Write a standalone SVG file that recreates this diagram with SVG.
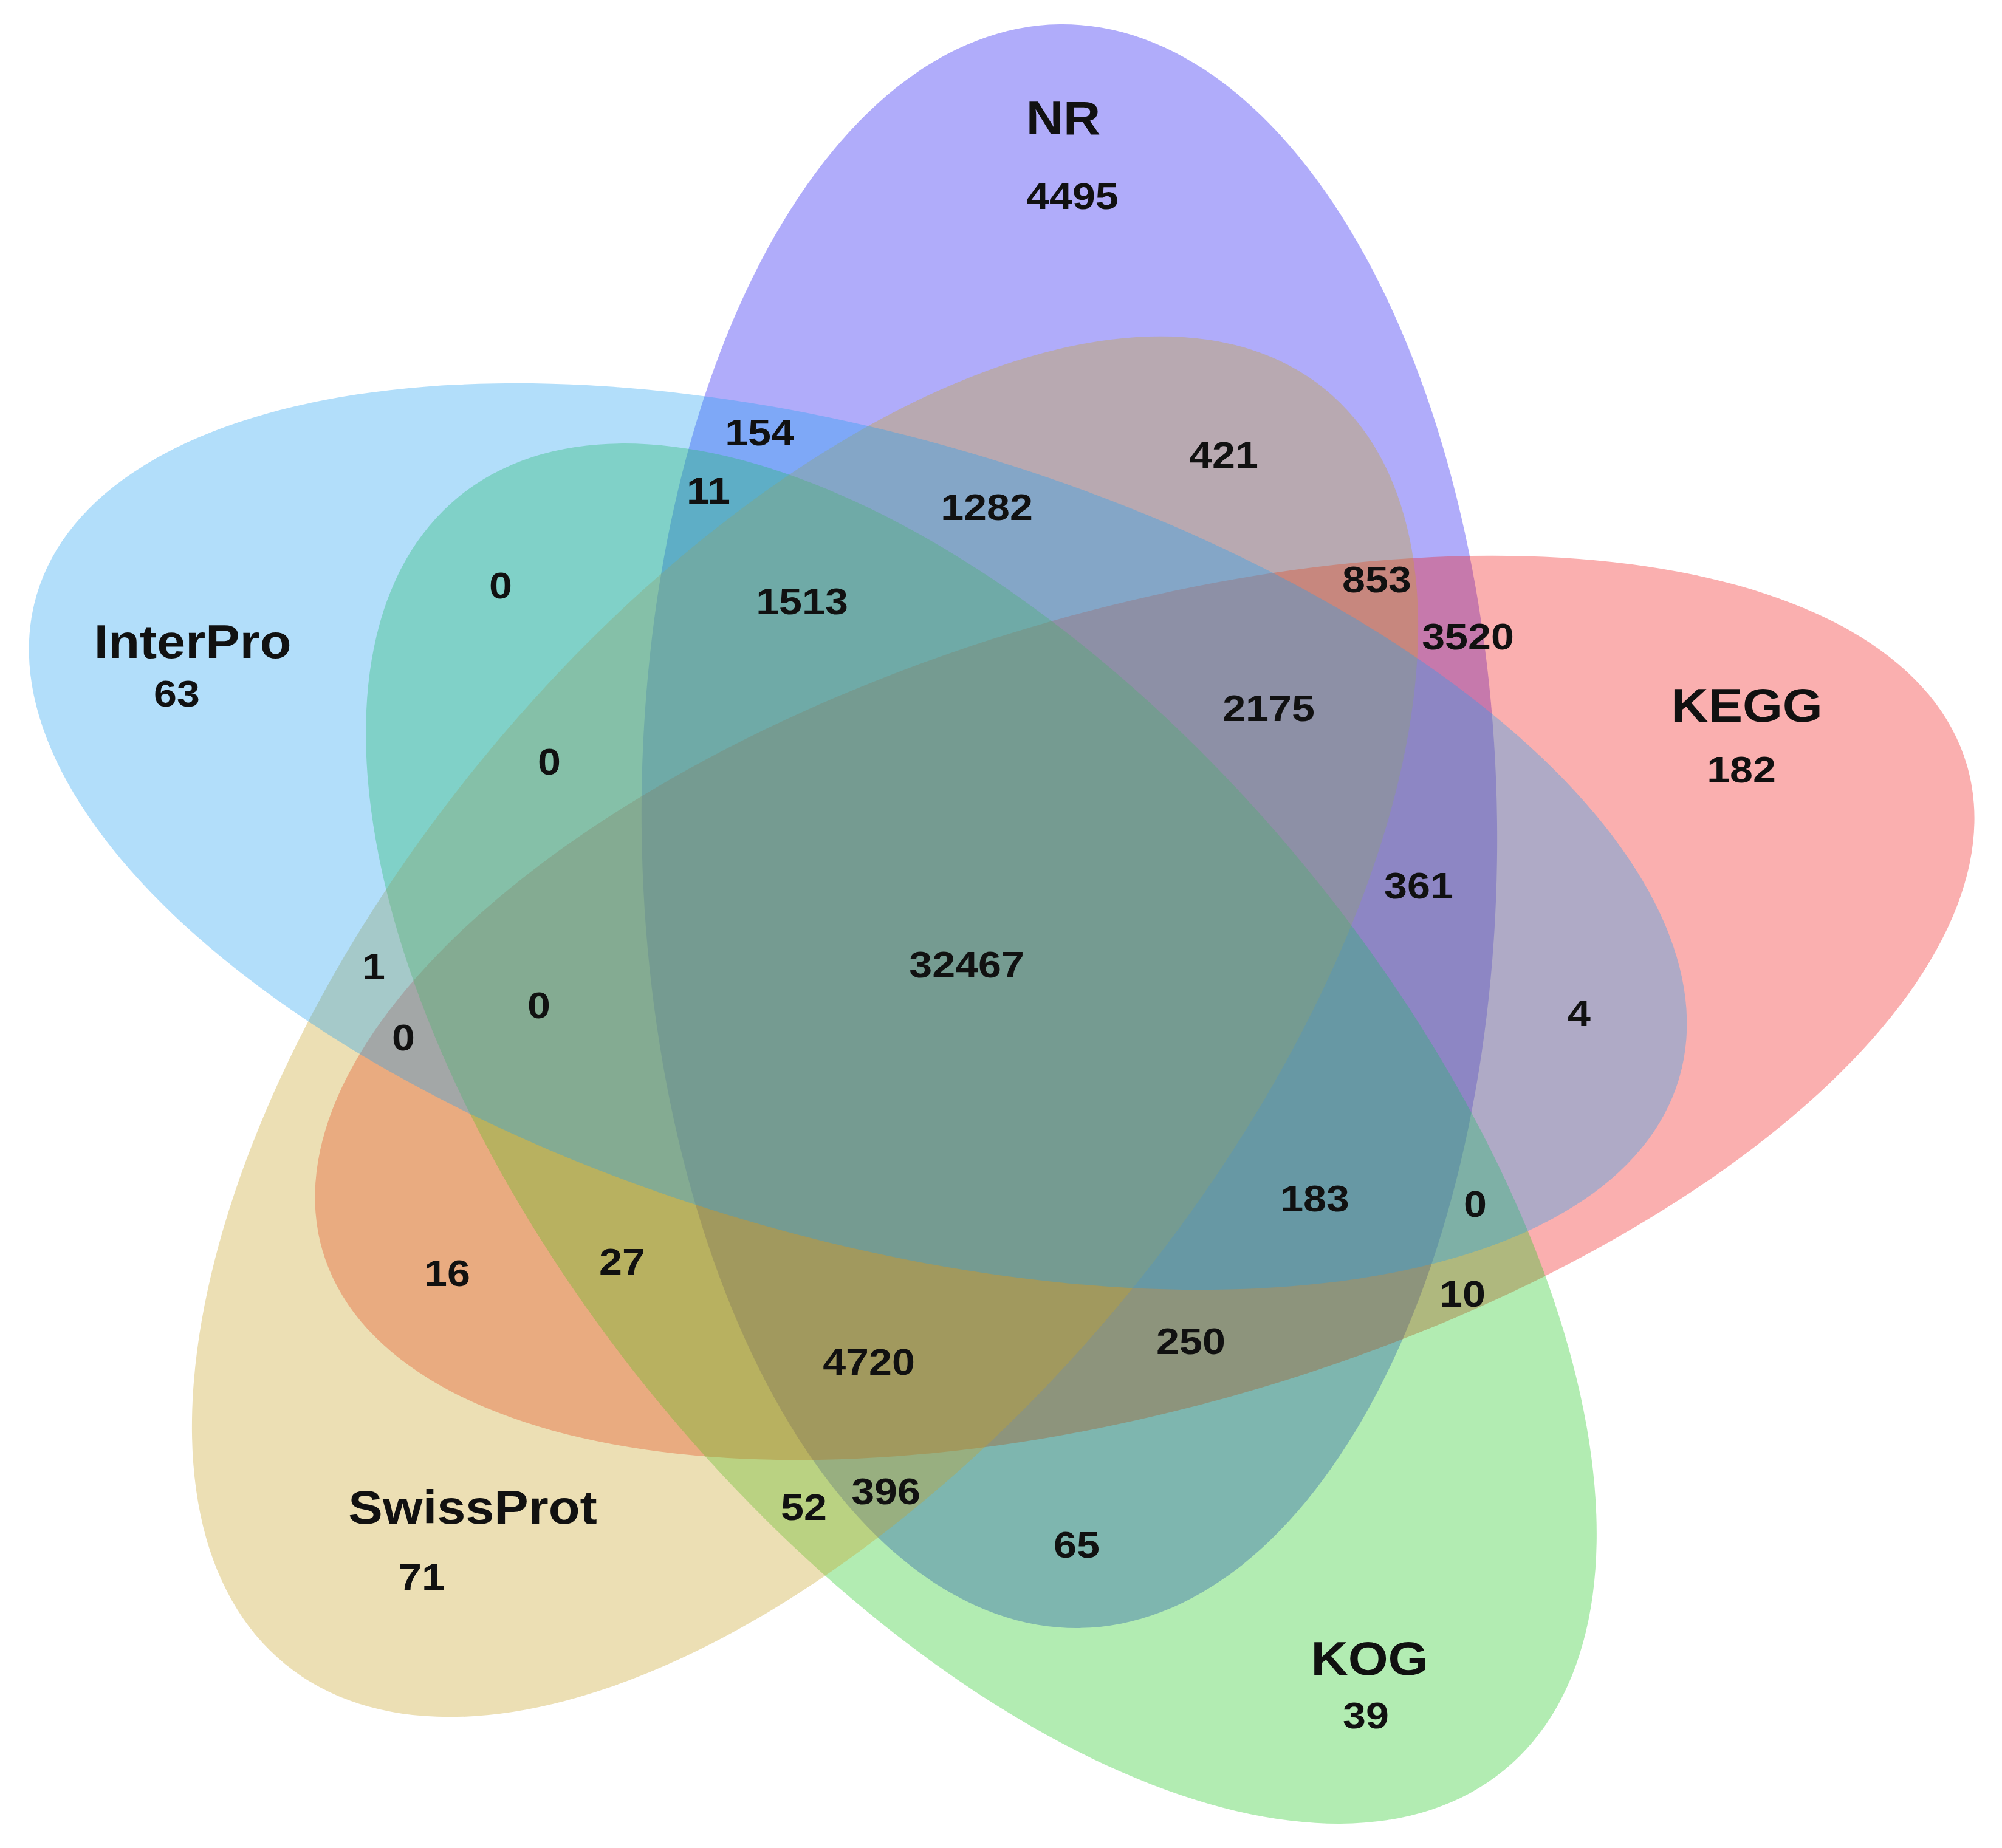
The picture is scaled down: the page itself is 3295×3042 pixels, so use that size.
<svg xmlns="http://www.w3.org/2000/svg" width="3295" height="3042" viewBox="0 0 3295 3042">
<style>
.set{fill-opacity:0.35;stroke:none}
.lbl{font-family:"Liberation Sans",Arial,sans-serif;font-weight:bold;font-size:77px;fill:#111;text-anchor:middle}
.num{font-family:"Liberation Sans",Arial,sans-serif;font-weight:bold;font-size:62px;fill:#111;text-anchor:middle}
</style>
<rect width="3295" height="3042" fill="#ffffff"/>
<g id="set-NR">
<ellipse class="set" cx="1760" cy="1360" rx="704" ry="1320" transform="rotate(-0.7 1760 1360)" fill="#1D12F1"/>
<g transform="scale(1.1 1)"><text class="lbl" x="1590.9" y="221">NR</text><text class="num" x="1604.5" y="344">4495</text></g>
</g>
<g id="set-KEGG">
<ellipse class="set" cx="1884" cy="1659" rx="1411" ry="654" transform="rotate(-16.5 1884 1659)" fill="#F11A1A"/>
<g transform="scale(1.1 1)"><text class="lbl" x="2613.6" y="1188">KEGG</text><text class="num" x="2605.5" y="1288">182</text></g>
</g>
<g id="set-KOG">
<ellipse class="set" cx="1615" cy="1866" rx="1356" ry="691" transform="rotate(50.6 1615 1866)" fill="#23C923"/>
<g transform="scale(1.1 1)"><text class="lbl" x="2049.1" y="2757">KOG</text><text class="num" x="2043.6" y="2845">39</text></g>
</g>
<g id="set-SwissProt">
<ellipse class="set" cx="1325" cy="1690" rx="1354" ry="690" transform="rotate(-50.8 1325 1690)" fill="#C9A429"/>
<g transform="scale(1.1 1)"><text class="lbl" x="707.3" y="2508">SwissProt</text><text class="num" x="630.9" y="2617">71</text></g>
</g>
<g id="set-InterPro">
<ellipse class="set" cx="1412" cy="1377" rx="1409" ry="658" transform="rotate(16.4 1412 1377)" fill="#23A1F1"/>
<g transform="scale(1.1 1)"><text class="lbl" x="288.2" y="1083">InterPro</text><text class="num" x="264.5" y="1163">63</text></g>
</g>
<g id="region-counts" transform="scale(1.1 1)">
<text class="num" x="1136.4" y="733">154</text>
<text class="num" x="1060" y="829">11</text>
<text class="num" x="1476.4" y="856">1282</text>
<text class="num" x="1830.9" y="770">421</text>
<text class="num" x="749.1" y="985">0</text>
<text class="num" x="1200" y="1011">1513</text>
<text class="num" x="2060" y="975">853</text>
<text class="num" x="2196.4" y="1069">3520</text>
<text class="num" x="1898.2" y="1187">2175</text>
<text class="num" x="821.8" y="1275">0</text>
<text class="num" x="2122.7" y="1479">361</text>
<text class="num" x="1446.4" y="1609">32467</text>
<text class="num" x="559.1" y="1612">1</text>
<text class="num" x="806.4" y="1676">0</text>
<text class="num" x="2362.7" y="1689">4</text>
<text class="num" x="603.6" y="1729">0</text>
<text class="num" x="1967.3" y="1994">183</text>
<text class="num" x="2207.3" y="2003">0</text>
<text class="num" x="669.1" y="2117">16</text>
<text class="num" x="930.9" y="2098">27</text>
<text class="num" x="2188.2" y="2151">10</text>
<text class="num" x="1781.8" y="2229">250</text>
<text class="num" x="1300" y="2263">4720</text>
<text class="num" x="1325.5" y="2476">396</text>
<text class="num" x="1202.7" y="2502">52</text>
<text class="num" x="1610.9" y="2564">65</text>
</g>
</svg>
